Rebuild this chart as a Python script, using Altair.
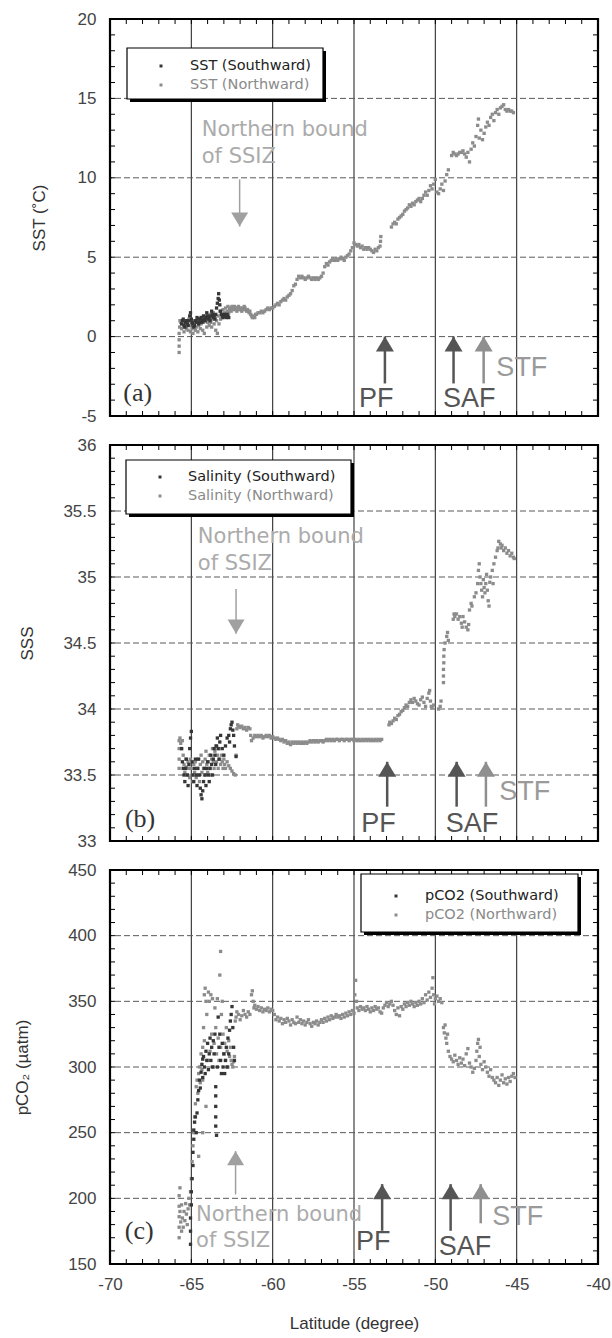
import altair as alt
import pandas as pd

FONT = "Liberation Sans"
NOTE_FONT = "DejaVu Sans"
LEG_FONT = "DejaVu Sans"
XDOM = [-70, -40]
W = 488
HA, HB, HC = 397, 396, 394
C_NORTH = "#8c8c8c"
C_SOUTH = "#363636"

# ---------------- data ----------------
SST_NORTH = [
    (-65.75, -1.0), (-65.75, -0.6), (-65.75, -0.2), (-65.75, 0.2), (-65.72, 0.6), (-65.7, 1.0),
    (-65.65, 0.9), (-65.6, 0.5), (-65.55, 1.0), (-65.5, 0.8), (-65.45, 0.3), (-65.4, 0.6),
    (-65.35, 1.0), (-65.3, 0.5), (-65.25, 0.8), (-65.2, 0.4), (-65.15, 1.1), (-65.1, 0.7),
    (-65.05, 0.3), (-65.0, 0.9), (-64.95, 0.5), (-64.9, 0.2), (-64.85, 0.7), (-64.8, 1.0),
    (-64.75, 0.4), (-64.7, 0.6), (-64.65, 0.9), (-64.6, 0.3), (-64.55, 0.7), (-64.5, 1.1),
    (-64.45, 0.5), (-64.4, 0.8), (-64.35, 1.2), (-64.3, 0.4), (-64.25, 0.9), (-64.2, 0.2),
    (-64.15, 1.0), (-64.1, 1.3), (-64.05, 0.6), (-64.0, 0.9), (-63.95, 1.2), (-63.9, 0.7),
    (-63.85, 1.4), (-63.8, 0.9), (-63.75, 0.6), (-63.7, 1.1), (-63.65, 1.5), (-63.6, 0.8),
    (-63.55, 1.2), (-63.5, 0.4), (-63.45, 1.0), (-63.4, 0.2), (-63.35, 1.3), (-63.3, 0.8),
    (-63.25, 1.6), (-63.2, 1.1), (-63.15, 1.4), (-63.1, 1.2), (-63.05, 1.7), (-63.0, 1.3),
    (-62.95, 1.5), (-62.9, 1.8), (-62.85, 1.4), (-62.8, 1.6), (-62.75, 1.9), (-62.7, 1.5),
    (-62.65, 1.7), (-62.6, 1.8), (-62.55, 1.6), (-62.5, 1.9), (-62.45, 1.7), (-62.4, 1.8),
    (-62.35, 1.9), (-62.3, 1.7), (-62.25, 1.8), (-62.2, 1.6), (-62.15, 1.8), (-62.1, 1.9),
    (-62.05, 1.7), (-62.0, 1.8), (-61.95, 1.7), (-61.9, 1.6), (-61.85, 1.8), (-61.8, 1.7),
    (-61.75, 1.9), (-61.7, 1.8), (-61.65, 1.7), (-61.6, 1.6), (-61.55, 1.7), (-61.5, 1.6),
    (-61.45, 1.5), (-61.4, 1.6), (-61.35, 1.4), (-61.3, 1.3), (-61.25, 1.2), (-61.2, 1.2),
    (-61.15, 1.3), (-61.1, 1.2), (-61.05, 1.4), (-61.0, 1.4), (-60.9, 1.5), (-60.8, 1.5),
    (-60.7, 1.6), (-60.6, 1.5), (-60.5, 1.6), (-60.4, 1.7), (-60.3, 1.8), (-60.2, 1.7),
    (-60.1, 1.8), (-60.0, 1.8), (-59.9, 1.9), (-59.8, 2.0), (-59.7, 2.1), (-59.6, 2.0),
    (-59.5, 2.2), (-59.4, 2.3), (-59.3, 2.4), (-59.2, 2.3), (-59.1, 2.5), (-59.0, 2.6),
    (-58.9, 2.7), (-58.8, 2.9), (-58.7, 3.2), (-58.6, 3.3), (-58.5, 3.6), (-58.4, 3.8),
    (-58.3, 3.7), (-58.2, 3.8), (-58.1, 3.7), (-58.0, 3.6), (-57.9, 3.7), (-57.8, 3.8),
    (-57.7, 3.7), (-57.6, 3.6), (-57.5, 3.7), (-57.4, 3.6), (-57.3, 3.7), (-57.2, 3.6),
    (-57.1, 3.7), (-57.0, 3.8), (-56.9, 4.0), (-56.8, 4.4), (-56.7, 4.6), (-56.6, 4.5),
    (-56.5, 4.7), (-56.4, 4.8), (-56.3, 4.9), (-56.2, 4.8), (-56.1, 4.9), (-56.0, 4.8),
    (-55.9, 4.9), (-55.8, 5.0), (-55.7, 4.9), (-55.6, 4.8), (-55.5, 5.0), (-55.4, 5.1),
    (-55.3, 5.2), (-55.2, 5.4), (-55.1, 5.6), (-55.0, 5.9), (-54.9, 5.8), (-54.8, 5.7),
    (-54.7, 5.8), (-54.6, 5.6), (-54.5, 5.7), (-54.4, 5.5), (-54.3, 5.6), (-54.2, 5.5),
    (-54.1, 5.6), (-54.0, 5.5), (-53.9, 5.4), (-53.8, 5.3), (-53.7, 5.5), (-53.6, 5.4),
    (-53.5, 5.6), (-53.4, 5.7), (-53.37, 6.0), (-53.35, 6.3),
    (-52.7, 6.9), (-52.6, 7.1), (-52.5, 7.2), (-52.4, 7.1), (-52.3, 7.4), (-52.2, 7.5),
    (-52.1, 7.6), (-52.0, 7.7), (-51.9, 7.9), (-51.8, 8.0), (-51.7, 8.1), (-51.6, 8.3),
    (-51.5, 8.2), (-51.4, 8.4), (-51.3, 8.3), (-51.2, 8.5), (-51.1, 8.6), (-51.0, 8.7),
    (-50.9, 8.5), (-50.8, 8.7), (-50.7, 8.9), (-50.6, 9.1), (-50.5, 8.9), (-50.4, 9.2),
    (-50.3, 9.5), (-50.2, 9.3), (-50.1, 9.6), (-50.0, 9.9), (-49.9, 9.1), (-49.8, 9.0),
    (-49.7, 9.3), (-49.6, 9.6), (-49.5, 9.2), (-49.4, 9.8), (-49.3, 10.2), (-49.2, 10.5),
    (-49.0, 11.4), (-48.9, 11.6), (-48.8, 11.5), (-48.7, 11.4), (-48.6, 11.5), (-48.5, 11.6),
    (-48.4, 11.6), (-48.3, 11.7), (-48.2, 11.5), (-48.1, 11.3), (-48.0, 11.6), (-47.9, 11.0),
    (-47.8, 11.8), (-47.7, 12.2), (-47.6, 12.0), (-47.5, 12.6), (-47.4, 13.3), (-47.35, 13.7),
    (-47.3, 12.5), (-47.2, 13.0), (-47.1, 12.4), (-47.0, 12.8), (-46.9, 13.2), (-46.8, 13.5),
    (-46.7, 13.3), (-46.6, 13.8), (-46.5, 14.0), (-46.4, 13.6), (-46.3, 14.1), (-46.2, 14.3),
    (-46.1, 14.0), (-46.0, 14.4), (-45.9, 14.5), (-45.8, 14.6), (-45.7, 14.3), (-45.6, 14.2),
    (-45.5, 14.3), (-45.4, 14.2), (-45.3, 14.2), (-45.2, 14.1),
]
SST_SOUTH = [
    (-65.6, 0.8), (-65.55, 1.0), (-65.5, 1.1), (-65.45, 0.7), (-65.4, 0.6), (-65.35, 0.9),
    (-65.3, 1.0), (-65.25, 0.8), (-65.2, 0.7), (-65.15, 1.0), (-65.1, 1.3), (-65.05, 1.5),
    (-65.0, 1.1), (-64.95, 0.9), (-64.9, 0.8), (-64.85, 0.6), (-64.8, 0.7), (-64.75, 1.0),
    (-64.7, 0.9), (-64.65, 1.2), (-64.6, 1.1), (-64.55, 0.8), (-64.5, 0.9), (-64.45, 1.1),
    (-64.4, 1.2), (-64.35, 0.9), (-64.3, 1.0), (-64.25, 1.3), (-64.2, 1.1), (-64.15, 1.0),
    (-64.1, 1.2), (-64.05, 1.5), (-64.0, 1.3), (-63.95, 1.1), (-63.9, 1.2), (-63.85, 1.0),
    (-63.8, 1.3), (-63.75, 1.6), (-63.7, 1.4), (-63.65, 1.2), (-63.6, 1.3), (-63.55, 1.1),
    (-63.5, 1.4), (-63.45, 1.8), (-63.4, 2.1), (-63.35, 2.4), (-63.32, 2.7), (-63.28, 2.3),
    (-63.25, 2.0), (-63.2, 1.6), (-63.15, 1.4), (-63.1, 1.3), (-63.05, 1.2), (-63.0, 1.3),
    (-62.95, 1.4), (-62.9, 1.3), (-62.85, 1.2), (-62.8, 1.4), (-62.75, 1.3), (-62.7, 1.2),
]

SSS_NORTH = [
    (-65.75, 33.55), (-65.75, 33.62), (-65.75, 33.7), (-65.75, 33.76), (-65.7, 33.78),
    (-65.65, 33.74), (-65.6, 33.7), (-65.55, 33.76), (-65.5, 33.65), (-65.45, 33.58),
    (-65.4, 33.52), (-65.35, 33.62), (-65.3, 33.56), (-65.25, 33.5), (-65.2, 33.6),
    (-65.15, 33.55), (-65.1, 33.48), (-65.05, 33.62), (-65.0, 33.55), (-64.95, 33.5),
    (-64.9, 33.45), (-64.85, 33.58), (-64.8, 33.52), (-64.75, 33.6), (-64.7, 33.48),
    (-64.65, 33.55), (-64.6, 33.62), (-64.55, 33.5), (-64.5, 33.45), (-64.45, 33.58),
    (-64.4, 33.65), (-64.35, 33.52), (-64.3, 33.6), (-64.25, 33.55), (-64.2, 33.5),
    (-64.15, 33.62), (-64.1, 33.68), (-64.05, 33.58), (-64.0, 33.52), (-63.95, 33.6),
    (-63.9, 33.65), (-63.85, 33.55), (-63.8, 33.5), (-63.75, 33.62), (-63.7, 33.7),
    (-63.65, 33.6), (-63.6, 33.55), (-63.55, 33.68), (-63.5, 33.72), (-63.45, 33.6),
    (-63.4, 33.65), (-63.35, 33.55), (-63.3, 33.7), (-63.25, 33.62), (-63.2, 33.58),
    (-63.15, 33.65), (-63.1, 33.6), (-63.05, 33.55), (-63.0, 33.62), (-62.95, 33.58),
    (-62.9, 33.55), (-62.8, 33.6), (-62.7, 33.57), (-62.6, 33.55), (-62.5, 33.53),
    (-62.4, 33.51), (-62.3, 33.5), (-62.25, 33.65), (-62.2, 33.85), (-62.15, 33.88),
    (-62.1, 33.87), (-62.0, 33.86), (-61.9, 33.87), (-61.8, 33.85), (-61.7, 33.86),
    (-61.6, 33.84), (-61.5, 33.86), (-61.4, 33.85), (-61.35, 33.8), (-61.3, 33.76),
    (-61.2, 33.78), (-61.1, 33.8), (-61.0, 33.79), (-60.9, 33.8), (-60.8, 33.79),
    (-60.7, 33.8), (-60.6, 33.78), (-60.5, 33.79), (-60.4, 33.8), (-60.3, 33.79),
    (-60.2, 33.8), (-60.1, 33.78), (-60.0, 33.79), (-59.9, 33.78), (-59.8, 33.77),
    (-59.7, 33.78), (-59.6, 33.77), (-59.5, 33.76), (-59.4, 33.77), (-59.3, 33.75),
    (-59.2, 33.76), (-59.1, 33.74), (-59.0, 33.75), (-58.9, 33.73), (-58.8, 33.75),
    (-58.7, 33.74), (-58.6, 33.75), (-58.5, 33.74), (-58.4, 33.75), (-58.3, 33.74),
    (-58.2, 33.75), (-58.1, 33.74), (-58.0, 33.75), (-57.9, 33.74), (-57.8, 33.75),
    (-57.7, 33.76), (-57.6, 33.75), (-57.5, 33.76), (-57.4, 33.75), (-57.3, 33.76),
    (-57.2, 33.75), (-57.1, 33.76), (-57.0, 33.76), (-56.9, 33.75), (-56.8, 33.76),
    (-56.7, 33.77), (-56.6, 33.76), (-56.5, 33.77), (-56.4, 33.76), (-56.3, 33.77),
    (-56.2, 33.76), (-56.1, 33.77), (-56.0, 33.77), (-55.9, 33.76), (-55.8, 33.77),
    (-55.7, 33.77), (-55.6, 33.76), (-55.5, 33.77), (-55.4, 33.77), (-55.3, 33.76),
    (-55.2, 33.77), (-55.1, 33.77), (-55.0, 33.76), (-54.9, 33.77), (-54.8, 33.76),
    (-54.7, 33.77), (-54.6, 33.76), (-54.5, 33.77), (-54.4, 33.76), (-54.3, 33.77),
    (-54.2, 33.76), (-54.1, 33.77), (-54.0, 33.76), (-53.9, 33.77), (-53.8, 33.76),
    (-53.7, 33.77), (-53.6, 33.76), (-53.5, 33.77), (-53.4, 33.76), (-53.3, 33.77),
    (-52.85, 33.88), (-52.8, 33.9), (-52.7, 33.89), (-52.6, 33.91), (-52.5, 33.93),
    (-52.4, 33.92), (-52.3, 33.95), (-52.2, 33.96), (-52.1, 33.98), (-52.0, 33.99),
    (-51.9, 34.01), (-51.8, 34.03), (-51.7, 34.02), (-51.6, 34.05), (-51.5, 34.07),
    (-51.4, 34.05), (-51.3, 34.08), (-51.2, 34.06), (-51.1, 34.04), (-51.0, 34.03),
    (-50.9, 34.07), (-50.8, 34.09), (-50.7, 34.05), (-50.6, 34.02), (-50.5, 34.08),
    (-50.4, 34.12), (-50.35, 34.14), (-50.3, 34.06), (-50.25, 34.02), (-50.2, 34.01),
    (-50.1, 34.03), (-49.8, 34.0), (-49.7, 34.02), (-49.65, 34.06),
    (-49.5, 34.2), (-49.5, 34.25), (-49.5, 34.3), (-49.48, 34.35), (-49.48, 34.4), (-49.46, 34.45),
    (-49.4, 34.5), (-49.3, 34.55), (-49.25, 34.58), (-49.2, 34.52),
    (-48.9, 34.68), (-48.85, 34.72), (-48.8, 34.7), (-48.7, 34.72), (-48.6, 34.68),
    (-48.5, 34.7), (-48.4, 34.65), (-48.35, 34.62), (-48.3, 34.7), (-48.2, 34.66),
    (-48.1, 34.62), (-48.0, 34.6), (-47.95, 34.64), (-47.9, 34.75), (-47.8, 34.8),
    (-47.75, 34.78), (-47.6, 34.85), (-47.5, 34.88), (-47.4, 34.95), (-47.35, 35.05),
    (-47.3, 35.1), (-47.25, 35.0), (-47.2, 34.95), (-47.15, 34.9), (-47.1, 34.85),
    (-47.05, 34.98), (-47.0, 34.92), (-46.95, 34.88), (-46.9, 34.95), (-46.85, 35.02),
    (-46.8, 34.9), (-46.75, 34.82), (-46.7, 34.78), (-46.65, 34.96), (-46.6, 35.0),
    (-46.5, 35.05), (-46.45, 34.95), (-46.4, 35.1), (-46.3, 35.15), (-46.2, 35.2),
    (-46.15, 35.22), (-46.1, 35.27), (-46.0, 35.25), (-45.95, 35.22), (-45.9, 35.24),
    (-45.8, 35.2), (-45.7, 35.22), (-45.6, 35.18), (-45.5, 35.2), (-45.4, 35.16),
    (-45.3, 35.18), (-45.2, 35.15), (-45.15, 35.14),
]
SSS_SOUTH = [
    (-65.6, 33.7), (-65.55, 33.6), (-65.5, 33.55), (-65.45, 33.5), (-65.4, 33.45),
    (-65.35, 33.55), (-65.3, 33.62), (-65.25, 33.5), (-65.2, 33.42), (-65.15, 33.58),
    (-65.1, 33.7), (-65.05, 33.78), (-65.0, 33.83), (-64.95, 33.6), (-64.9, 33.5),
    (-64.85, 33.45), (-64.8, 33.55), (-64.75, 33.62), (-64.7, 33.5), (-64.65, 33.42),
    (-64.6, 33.55), (-64.55, 33.62), (-64.5, 33.5), (-64.45, 33.4), (-64.4, 33.35),
    (-64.35, 33.32), (-64.3, 33.38), (-64.25, 33.45), (-64.2, 33.55), (-64.15, 33.5),
    (-64.1, 33.42), (-64.05, 33.55), (-64.0, 33.6), (-63.95, 33.5), (-63.9, 33.45),
    (-63.85, 33.55), (-63.8, 33.65), (-63.75, 33.58), (-63.7, 33.5), (-63.65, 33.62),
    (-63.6, 33.7), (-63.55, 33.65), (-63.5, 33.58), (-63.45, 33.72), (-63.4, 33.78),
    (-63.35, 33.7), (-63.3, 33.62), (-63.25, 33.75), (-63.2, 33.8), (-63.1, 33.7),
    (-63.0, 33.65), (-62.9, 33.72), (-62.8, 33.78), (-62.7, 33.8), (-62.65, 33.75),
    (-62.6, 33.85), (-62.55, 33.88), (-62.5, 33.9), (-62.45, 33.84), (-62.4, 33.8),
    (-62.35, 33.72), (-62.25, 33.64),
]

PCO2_NORTH = [
    (-65.75, 170), (-65.75, 178), (-65.75, 186), (-65.75, 194), (-65.75, 202), (-65.7, 208),
    (-65.7, 190), (-65.65, 182), (-65.6, 175), (-65.6, 195), (-65.55, 185), (-65.5, 178),
    (-65.45, 190), (-65.4, 183), (-65.35, 196), (-65.3, 188), (-65.25, 180), (-65.2, 192),
    (-65.15, 200), (-65.1, 195), (-65.05, 205), (-65.0, 215), (-64.95, 228), (-64.9, 240),
    (-64.85, 250), (-64.8, 262), (-64.75, 272), (-64.7, 285), (-64.65, 290), (-64.6, 280),
    (-64.55, 295), (-64.55, 232), (-64.5, 300), (-64.45, 288), (-64.4, 310), (-64.35, 298),
    (-64.3, 315), (-64.3, 290), (-64.3, 250), (-64.25, 330), (-64.2, 355), (-64.2, 320),
    (-64.15, 360), (-64.1, 350), (-64.1, 270), (-64.05, 340), (-64.0, 305), (-63.95, 357),
    (-63.9, 350), (-63.85, 312), (-63.8, 355), (-63.75, 325), (-63.7, 352), (-63.65, 300),
    (-63.6, 318), (-63.55, 345), (-63.5, 330), (-63.45, 310), (-63.4, 352), (-63.35, 322),
    (-63.3, 305), (-63.25, 370), (-63.2, 388), (-63.2, 315), (-63.15, 340), (-63.1, 350),
    (-63.05, 325), (-63.0, 310), (-62.95, 318), (-62.9, 305), (-62.85, 330), (-62.8, 312),
    (-62.75, 300), (-62.7, 320), (-62.65, 308), (-62.6, 315), (-62.55, 305), (-62.5, 302),
    (-62.45, 300), (-62.4, 304), (-62.35, 308),
    (-62.3, 335), (-62.25, 338), (-62.2, 342), (-62.1, 340), (-62.0, 336), (-61.9, 339),
    (-61.8, 343), (-61.7, 340), (-61.6, 338), (-61.5, 342), (-61.4, 340), (-61.3, 355),
    (-61.25, 358), (-61.2, 350), (-61.15, 345), (-61.1, 347), (-61.0, 344), (-60.9, 346),
    (-60.8, 343), (-60.7, 345), (-60.6, 342), (-60.5, 344), (-60.4, 343), (-60.3, 345),
    (-60.2, 342), (-60.1, 344), (-60.0, 343), (-59.9, 340), (-59.8, 336), (-59.7, 338),
    (-59.6, 335), (-59.5, 337), (-59.4, 333), (-59.3, 336), (-59.2, 334), (-59.1, 337),
    (-59.0, 335), (-58.9, 332), (-58.8, 336), (-58.7, 334), (-58.6, 333), (-58.5, 338),
    (-58.4, 334), (-58.3, 336), (-58.2, 333), (-58.1, 335), (-58.0, 332), (-57.9, 334),
    (-57.8, 336), (-57.7, 333), (-57.6, 331), (-57.5, 334), (-57.4, 333), (-57.3, 335),
    (-57.2, 332), (-57.1, 334), (-57.0, 336), (-56.9, 334), (-56.8, 337), (-56.7, 335),
    (-56.6, 338), (-56.5, 336), (-56.4, 339), (-56.3, 337), (-56.2, 338), (-56.1, 340),
    (-56.0, 338), (-55.9, 339), (-55.8, 337), (-55.7, 340), (-55.6, 338), (-55.5, 341),
    (-55.4, 339), (-55.3, 342), (-55.2, 340), (-55.1, 343), (-55.0, 341), (-54.95, 355),
    (-54.9, 366), (-54.85, 350), (-54.8, 345), (-54.7, 343), (-54.6, 346), (-54.5, 344),
    (-54.4, 345), (-54.3, 343), (-54.2, 346), (-54.1, 344), (-54.0, 342), (-53.9, 345),
    (-53.8, 343), (-53.7, 346), (-53.6, 344), (-53.5, 345), (-53.4, 342), (-53.3, 341),
    (-53.2, 345), (-53.1, 347), (-53.0, 349), (-52.9, 346), (-52.8, 348), (-52.7, 350),
    (-52.6, 347), (-52.5, 343), (-52.4, 340), (-52.3, 345), (-52.2, 339), (-52.1, 346),
    (-52.0, 344), (-51.9, 348), (-51.8, 346), (-51.7, 349), (-51.6, 347), (-51.5, 350),
    (-51.4, 348), (-51.3, 346), (-51.2, 349), (-51.1, 347), (-51.0, 350), (-50.9, 348),
    (-50.8, 352), (-50.7, 349), (-50.6, 355), (-50.5, 351), (-50.4, 357), (-50.3, 353),
    (-50.2, 360), (-50.15, 368), (-50.1, 355), (-50.05, 348), (-50.0, 352), (-49.9, 354),
    (-49.8, 350), (-49.7, 352), (-49.6, 349),
    (-49.5, 330), (-49.45, 326), (-49.4, 332), (-49.35, 322), (-49.3, 318), (-49.25, 325),
    (-49.2, 312), (-49.1, 308), (-49.0, 306), (-48.9, 304), (-48.8, 309), (-48.7, 305),
    (-48.6, 302), (-48.5, 307), (-48.4, 303), (-48.3, 306), (-48.2, 301), (-48.1, 310),
    (-48.0, 314), (-47.9, 303), (-47.8, 300), (-47.7, 296), (-47.6, 299), (-47.5, 305),
    (-47.45, 312), (-47.4, 318), (-47.35, 321), (-47.3, 308), (-47.25, 315), (-47.2, 302),
    (-47.1, 298), (-47.0, 304), (-46.9, 300), (-46.8, 296), (-46.7, 293), (-46.6, 298),
    (-46.5, 292), (-46.4, 290), (-46.3, 288), (-46.2, 292), (-46.1, 286), (-46.0, 290),
    (-45.9, 294), (-45.8, 288), (-45.7, 291), (-45.6, 287), (-45.5, 292), (-45.4, 289),
    (-45.3, 293), (-45.2, 295), (-45.1, 292),
]
PCO2_SOUTH = [
    (-65.05, 165), (-65.05, 175), (-65.05, 185), (-65.0, 195), (-65.0, 205), (-64.95, 215),
    (-64.9, 225), (-64.9, 235), (-64.85, 245), (-64.85, 252), (-64.8, 258), (-64.75, 262),
    (-64.7, 250), (-64.65, 265), (-64.6, 275), (-64.55, 282), (-64.5, 290), (-64.45, 284),
    (-64.4, 296), (-64.35, 302), (-64.3, 292), (-64.3, 306), (-64.25, 308), (-64.2, 300),
    (-64.15, 295), (-64.1, 312), (-64.05, 305), (-64.0, 318), (-63.95, 298), (-63.9, 310),
    (-63.85, 322), (-63.8, 305), (-63.75, 315), (-63.7, 300), (-63.65, 320), (-63.6, 310),
    (-63.55, 325), (-63.5, 285), (-63.5, 278), (-63.5, 270), (-63.5, 262), (-63.5, 255),
    (-63.45, 248), (-63.4, 300), (-63.35, 338), (-63.3, 315), (-63.25, 325), (-63.2, 305),
    (-63.15, 295), (-63.1, 318), (-63.05, 300), (-63.0, 310), (-62.95, 295), (-62.9, 305),
    (-62.85, 315), (-62.8, 300), (-62.75, 322), (-62.7, 310), (-62.65, 328), (-62.6, 335),
    (-62.55, 340), (-62.5, 346), (-62.45, 330), (-62.4, 315), (-62.35, 305),
]

# front arrows: (label, lat, tip, base, colour) per panel
FRONTS_A = [("PF", -53.1, 0.0, -2.95, "#555555"), ("SAF", -48.88, 0.0, -2.95, "#555555"),
            ("STF", -47.03, 0.0, -2.95, "#8f8f8f")]
FRONTS_B = [("PF", -52.96, 33.6, 33.26, "#555555"), ("SAF", -48.69, 33.6, 33.26, "#555555"),
            ("STF", -46.89, 33.6, 33.26, "#8f8f8f")]
FRONTS_C = [("PF", -53.27, 210.8, 175.3, "#555555"), ("SAF", -49.06, 210.8, 175.3, "#555555"),
            ("STF", -47.21, 210.8, 181.0, "#8f8f8f")]
# front labels: (text, lat, value, colour)
FLAB_A = [("PF", -53.63, -3.9, "#555555"), ("SAF", -47.92, -3.9, "#555555"), ("STF", -44.68, -2.0, "#9a9a9a")]
FLAB_B = [("PF", -53.49, 33.13, "#555555"), ("SAF", -47.75, 33.13, "#555555"), ("STF", -44.51, 33.37, "#9a9a9a")]
FLAB_C = [("PF", -53.82, 166.5, "#555555"), ("SAF", -48.17, 162.7, "#555555"), ("STF", -44.93, 185.5, "#9a9a9a")]
# SSIZ arrow: (lat, tip, tail); note text: (lat, first-line value, line spacing px)
SSIZ_A = (-62.03, 6.93, 9.9)
SSIZ_B = (-62.25, 34.57, 34.91)
SSIZ_C = (-62.28, 236.0, 203.0)
SSIZ_TXT_A = (-64.36, 13.03, 27)
SSIZ_TXT_B = (-64.6, 35.305, 27)
SSIZ_TXT_C = (-64.71, 187.0, 26)
SSIZ_TEXT = "Northern bound\nof SSIZ"
LETTER_A = ("(a)", -68.3, -3.57)
LETTER_B = ("(b)", -68.15, 33.17)
LETTER_C = ("(c)", -68.2, 174.8)

X_LABELS = [-70, -65, -60, -55, -50, -45, -40]
X_GRID = [-65, -60, -55, -50, -45]
X_MINOR = [-69, -68, -67, -66, -64, -63, -62, -61, -59, -58, -57, -56, -54, -53, -52, -51,
           -49, -48, -47, -46, -44, -43, -42, -41]

Y_A = [-5, 0, 5, 10, 15, 20]
Y_B = [33, 33.5, 34, 34.5, 35, 35.5, 36]
Y_C = [150, 200, 250, 300, 350, 400, 450]
MINOR_A = [-4, -3, -2, -1, 1, 2, 3, 4, 6, 7, 8, 9, 11, 12, 13, 14, 16, 17, 18, 19]
MINOR_B = [33.1, 33.2, 33.3, 33.4, 33.6, 33.7, 33.8, 33.9, 34.1, 34.2, 34.3, 34.4, 34.6,
           34.7, 34.8, 34.9, 35.1, 35.2, 35.3, 35.4, 35.6, 35.7, 35.8, 35.9]
MINOR_C = [160, 170, 180, 190, 210, 220, 230, 240, 260, 270, 280, 290, 310, 320, 330, 340,
           360, 370, 380, 390, 410, 420, 430, 440]

UP_HEAD = "M0,0L0.6,1L-0.6,1Z"
DOWN_HEAD = "M0,0L0.6,-1L-0.6,-1Z"


def xenc(show):
    if show:
        ax = alt.Axis(values=X_LABELS, ticks=False, domain=False, grid=False,
                      labelExpr="'' + datum.value", labelFont=FONT, labelFontSize=17,
                      labelColor="#444444", labelPadding=12, labelFlush=False, labelOverlap=False,
                      title="Latitude (degree)", titleFont=FONT, titleFontSize=17,
                      titleFontWeight="normal", titleColor="#333333", titleY=59,
                      titleBaseline="middle")
    else:
        ax = None
    return alt.X("lat:Q", scale=alt.Scale(domain=XDOM, nice=False, zero=False), axis=ax)


def yenc(ydom, yvals, title, title_x, H):
    ax = alt.Axis(values=yvals, ticks=False, domain=False, grid=False,
                  labelExpr="'' + datum.value", labelFont=FONT, labelFontSize=17,
                  labelColor="#444444", labelPadding=14, labelFlush=False, labelOverlap=False,
                  title=title, titleFont=FONT, titleFontSize=17, titleFontWeight="normal",
                  titleColor="#333333", titleAngle=270, titleX=title_x, titleY=H / 2,
                  titleBaseline="middle", titleAlign="center")
    return alt.Y("v:Q", scale=alt.Scale(domain=ydom, nice=False, zero=False), axis=ax)


def df(pairs):
    return pd.DataFrame(pairs, columns=["lat", "v"])


def panel(H, ydom, yvals, ygrid, yminor, title, title_x, north, south, fronts, flabs,
          ssiz, ssiz_dir, ssiz_txt, letter, legend, show_x):
    X = xenc(show_x)
    Y = yenc(ydom, yvals, title, title_x, H)
    layers = []
    # vertical grid
    layers.append(alt.Chart(pd.DataFrame({"lat": X_GRID})).mark_rule(
        color="#2e2e2e", strokeWidth=1.1).encode(x=X))
    # horizontal dashed grid
    layers.append(alt.Chart(pd.DataFrame({"v": ygrid})).mark_rule(
        color="#5a5a5a", strokeWidth=1, strokeDash=[6, 3]).encode(y=Y))
    # inward ticks
    xt = pd.DataFrame({"lat": X_MINOR + X_GRID})
    layers.append(alt.Chart(xt).mark_rule(color="black", strokeWidth=1).encode(
        x=X, y=alt.value(0), y2=alt.value(5)))
    layers.append(alt.Chart(xt).mark_rule(color="black", strokeWidth=1).encode(
        x=X, y=alt.value(H), y2=alt.value(H - 5)))
    yt = pd.DataFrame({"v": yminor + ygrid})
    layers.append(alt.Chart(yt).mark_rule(color="black", strokeWidth=1).encode(
        y=Y, x=alt.value(0), x2=alt.value(5)))
    layers.append(alt.Chart(yt).mark_rule(color="black", strokeWidth=1).encode(
        y=Y, x=alt.value(W), x2=alt.value(W - 5)))
    # data
    layers.append(alt.Chart(df(north)).mark_square(size=11, color=C_NORTH, opacity=1).encode(x=X, y=Y))
    layers.append(alt.Chart(df(south)).mark_square(size=11, color=C_SOUTH, opacity=1).encode(x=X, y=Y))
    # front arrows
    fr = pd.DataFrame(fronts, columns=["name", "lat", "v", "v2", "c"])
    layers.append(alt.Chart(fr).mark_rule(strokeWidth=2.5).encode(
        x=X, y=Y, y2="v2:Q", color=alt.Color("c:N", scale=None)))
    layers.append(alt.Chart(fr).mark_point(shape=UP_HEAD, size=900, filled=True, opacity=1,
                                           strokeWidth=0).encode(
        x=X, y=Y, color=alt.Color("c:N", scale=None)))
    fl = pd.DataFrame(flabs, columns=["t", "lat", "v", "c"])
    layers.append(alt.Chart(fl).mark_text(font=FONT, fontSize=27, align="center",
                                          baseline="middle").encode(
        x=X, y=Y, text="t:N", color=alt.Color("c:N", scale=None)))
    # SSIZ arrow + note
    sz = pd.DataFrame([{"lat": ssiz[0], "v": ssiz[1], "v2": ssiz[2]}])
    layers.append(alt.Chart(sz).mark_rule(strokeWidth=1.5, color="#a0a0a0").encode(
        x=X, y=Y, y2="v2:Q"))
    layers.append(alt.Chart(sz).mark_point(shape=ssiz_dir, size=800, filled=True, opacity=1,
                                           color="#a0a0a0", strokeWidth=0).encode(x=X, y=Y))
    st = pd.DataFrame([{"lat": ssiz_txt[0], "v": ssiz_txt[1], "t": SSIZ_TEXT}])
    layers.append(alt.Chart(st).mark_text(font=NOTE_FONT, fontSize=21, align="left",
                                          baseline="middle", lineBreak="\n",
                                          lineHeight=ssiz_txt[2], color="#ababab").encode(
        x=X, y=Y, text="t:N"))
    lt = pd.DataFrame([{"t": letter[0], "lat": letter[1], "v": letter[2]}])
    layers.append(alt.Chart(lt).mark_text(font="Liberation Serif", fontSize=26, align="center",
                                          baseline="middle", color="#333333").encode(
        x=X, y=Y, text="t:N"))
    # legend box
    (bx1, by1, bx2, by2, dotx, txtx, ty1, ty2, lab_s, lab_n) = legend
    one = pd.DataFrame({"k": [0]})
    layers.append(alt.Chart(one).mark_rect(color="black").encode(
        x=alt.value(bx1 + 3), x2=alt.value(bx2 + 3), y=alt.value(by1 + 3), y2=alt.value(by2 + 3)))
    layers.append(alt.Chart(one).mark_rect(fill="white", stroke="black", strokeWidth=1.2).encode(
        x=alt.value(bx1), x2=alt.value(bx2), y=alt.value(by1), y2=alt.value(by2)))
    layers.append(alt.Chart(one).mark_square(size=9, color=C_SOUTH, opacity=1).encode(
        x=alt.value(dotx), y=alt.value(ty1)))
    layers.append(alt.Chart(one).mark_square(size=9, color=C_NORTH, opacity=1).encode(
        x=alt.value(dotx), y=alt.value(ty2)))
    layers.append(alt.Chart(one).mark_text(font=LEG_FONT, fontSize=14.5, align="left",
                                           baseline="middle", color="#222222", text=lab_s).encode(
        x=alt.value(txtx), y=alt.value(ty1)))
    layers.append(alt.Chart(one).mark_text(font=LEG_FONT, fontSize=14.5, align="left",
                                           baseline="middle", color="#8a8a8a", text=lab_n).encode(
        x=alt.value(txtx), y=alt.value(ty2)))
    # frame
    layers.append(alt.Chart(one).mark_rect(fill=None, fillOpacity=0, stroke="black",
                                           strokeWidth=2.2).encode(
        x=alt.value(0), x2=alt.value(W), y=alt.value(0), y2=alt.value(H)))
    return alt.layer(*layers).properties(width=W, height=H)


pa = panel(HA, [-5, 20], Y_A, [0, 5, 10, 15], MINOR_A, "SST (˚C)", -71,
           SST_NORTH, SST_SOUTH, FRONTS_A, FLAB_A, SSIZ_A, DOWN_HEAD, SSIZ_TXT_A, LETTER_A,
           (17, 29, 213, 80, 51, 80, 47, 66, "SST (Southward)", "SST (Northward)"), False)
pb = panel(HB, [33, 36], Y_B, [33.5, 34, 34.5, 35, 35.5], MINOR_B, "SSS", -83,
           SSS_NORTH, SSS_SOUTH, FRONTS_B, FLAB_B, SSIZ_B, DOWN_HEAD, SSIZ_TXT_B, LETTER_B,
           (16, 15, 241, 69, 50, 78, 32, 51, "Salinity (Southward)", "Salinity (Northward)"), False)
pc = panel(HC, [150, 450], Y_C, [200, 250, 300, 350, 400], MINOR_C, "pCO₂ (µatm)", -88,
           PCO2_NORTH, PCO2_SOUTH, FRONTS_C, FLAB_C, SSIZ_C, UP_HEAD, SSIZ_TXT_C, LETTER_C,
           (251, 4, 468, 62, 286, 315, 26, 45, "pCO2 (Southward)", "pCO2 (Northward)"), True)

chart = alt.vconcat(pa, pb, pc, spacing=29, bounds="flush").properties(
    padding={"left": 12, "top": 9, "right": 0, "bottom": 0}
).configure_view(stroke=None).configure(background="white")

chart.save("out.html", embed_options={"renderer": "svg", "actions": False})
